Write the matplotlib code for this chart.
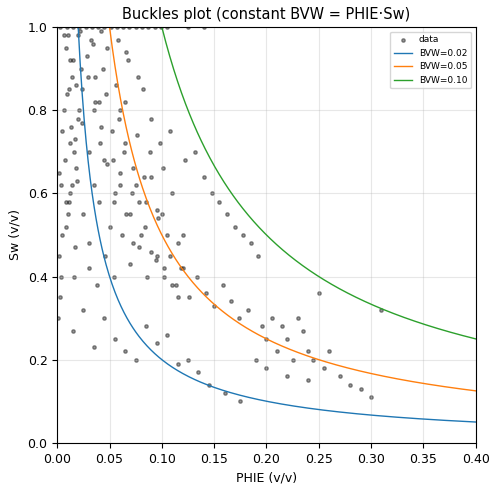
import numpy as np
import matplotlib
matplotlib.use("Agg")
import matplotlib.pyplot as plt

phie = [0.002,0.004,0.006,0.008,0.010,0.012,0.014,0.016,0.018,0.020,0.003,0.005,0.007,0.009,0.011,0.013,0.015,0.017,0.019,0.021,
        0.001,0.004,0.008,0.012,0.016,0.020,0.024,0.028,0.032,0.036,0.040,0.044,0.048,0.052,0.056,0.060,0.064,0.068,0.072,0.076,
        0.025,0.030,0.035,0.040,0.045,0.050,0.055,0.060,0.065,0.070,0.075,0.080,0.085,0.090,0.095,0.100,0.105,0.110,0.115,0.120,
        0.030,0.038,0.046,0.054,0.062,0.070,0.078,0.086,0.094,0.102,0.110,0.118,0.126,0.134,0.142,0.150,0.158,0.166,0.174,0.182,
        0.010,0.022,0.034,0.042,0.058,0.066,0.082,0.090,0.098,0.108,0.122,0.132,0.140,0.148,0.155,0.162,0.170,0.178,0.185,0.192,
        0.196,0.200,0.205,0.210,0.215,0.220,0.225,0.230,0.235,0.240,0.245,0.250,0.255,0.260,0.270,0.280,0.290,0.300,0.310,0.190,
        0.015,0.025,0.035,0.045,0.055,0.065,0.075,0.085,0.095,0.105,0.115,0.125,0.135,0.145,0.160,0.175,0.200,0.220,0.240,0.115,
        0.006,0.012,0.018,0.024,0.030,0.036,0.042,0.048,0.054,0.060,0.066,0.072,0.078,0.084,0.090,0.096,0.102,0.108,0.114,0.120,
        0.003,0.009,0.015,0.021,0.027,0.033,0.039,0.045,0.051,0.057,0.063,0.069,0.075,0.081,0.087,0.093,0.099,0.105,0.125,0.140,
        0.002,0.005,0.008,0.011,0.014,0.017,0.023,0.029,0.035,0.041,0.047,0.053,0.059,0.065,0.071,0.077,0.083,0.089,0.095,0.101]
sw = [0.45,0.62,0.80,0.95,0.55,0.72,0.88,0.40,0.66,0.98,0.35,0.50,0.68,0.84,0.58,0.76,0.92,0.47,0.63,0.80,
      0.30,0.40,0.52,0.60,0.70,0.78,0.85,0.93,0.97,0.88,0.82,0.90,0.95,0.75,0.86,0.80,0.70,0.92,0.66,0.74,
      0.55,0.48,0.62,0.58,0.68,0.52,0.60,0.65,0.72,0.55,0.62,0.50,0.58,0.64,0.45,0.55,0.50,0.60,0.48,0.42,
      0.42,0.38,0.45,0.40,0.50,0.43,0.47,0.40,0.44,0.40,0.38,0.42,0.35,0.40,0.36,0.33,0.38,0.34,0.30,0.32,
      0.98,0.99,0.96,0.99,0.97,0.94,0.85,0.78,0.72,0.75,0.68,0.70,0.64,0.60,0.58,0.55,0.52,0.50,0.48,0.45,
      0.28,0.25,0.30,0.22,0.28,0.25,0.20,0.30,0.27,0.22,0.20,0.36,0.18,0.22,0.16,0.14,0.13,0.11,0.32,0.20,
      0.27,0.32,0.23,0.30,0.25,0.22,0.20,0.28,0.24,0.26,0.19,0.20,0.17,0.14,0.12,0.10,0.18,0.16,0.15,0.35,
      0.98,0.92,0.86,0.77,0.70,0.82,0.76,0.67,0.58,0.62,0.55,0.48,0.58,0.52,0.46,0.54,0.42,0.45,0.38,0.50,
      1.00,1.00,1.00,1.00,1.00,1.00,1.00,1.00,1.00,1.00,1.00,1.00,1.00,1.00,1.00,1.00,1.00,1.00,1.00,1.00,
      0.65,0.75,0.58,0.85,0.62,0.73,0.90,0.88,0.80,0.72,0.84,0.68,0.78,0.82,0.60,0.88,0.64,0.70,0.56,0.66]
bvw_levels = [0.02, 0.05, 0.10]
colors = ["#1f77b4", "#ff7f0e", "#2ca02c"]

fig, ax = plt.subplots(figsize=(4.98, 4.92), dpi=100)
fig.subplots_adjust(left=0.115, right=0.955, top=0.945, bottom=0.1)
ax.scatter(phie, sw, s=6, c="black", alpha=0.4, label="data", clip_on=True)
for b, c in zip(bvw_levels, colors):
    x = np.linspace(b, 0.4, 400)
    ax.plot(x, b / x, color=c, lw=1, label=f"BVW={b:.2f}")
ax.set_xlim(0, 0.4)
ax.set_ylim(0, 1)
ax.set_xlabel("PHIE (v/v)", fontsize=9)
ax.set_ylabel("Sw (v/v)", fontsize=9)
ax.set_title("Buckles plot (constant BVW = PHIE·Sw)", fontsize=10.5)
ax.tick_params(labelsize=9)
ax.grid(True, alpha=0.3)
ax.legend(fontsize=6.5, loc="upper right")
fig.savefig("out.png")
